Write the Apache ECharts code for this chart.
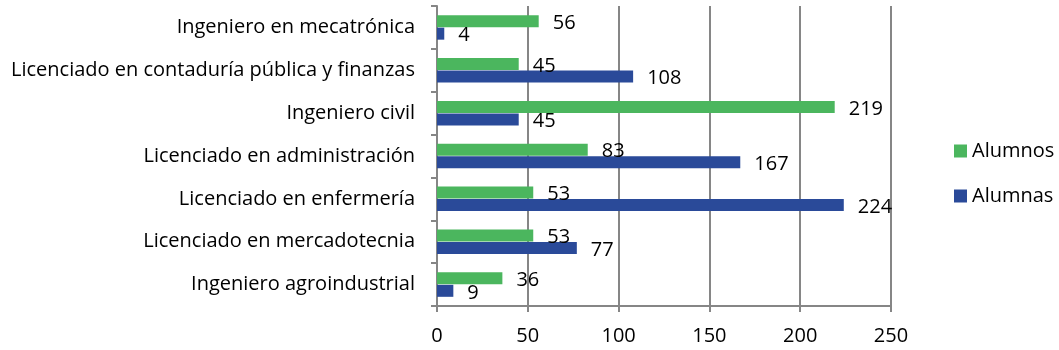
<!DOCTYPE html>
<html>
<head>
<meta charset="utf-8">
<script src="https://cdn.jsdelivr.net/npm/echarts@6/dist/echarts.min.js"></script>
<style>
  html, body { margin: 0; padding: 0; background: #fff; }
  #chart { width: 1059px; height: 350px; }
</style>
</head>
<body>
<div id="chart"></div>
<script>
// categories, bottom to top
const carreras = [
    "Ingeniero agroindustrial",
    "Licenciado en mercadotecnia",
    "Licenciado en enfermería",
    "Licenciado en administración",
    "Ingeniero civil",
    "Licenciado en contaduría pública y finanzas",
    "Ingeniero en mecatrónica"
];
const alumnos = [36, 53, 53, 83, 219, 45, 56];
const alumnas = [9, 77, 224, 167, 45, 108, 4];
const xTicks = [0, 50, 100, 150, 200, 250];

const fontName = "Open Sans";
const gris = "#868686";

let chart = echarts.init(document.getElementById("chart"));

let etiqueta = {
    show: true,
    position: "right",
    distance: 14,
    offset: [0, 2],
    color: "#000",
    fontFamily: fontName,
    fontSize: 20
};

let option = {
    animation: false,
    textStyle: { fontFamily: fontName },
    grid: {
        left: 437,
        right: 168,
        top: 6,
        bottom: 44
    },
    legend: {
        data: ["Alumnos", "Alumnas"],
        orient: "vertical",
        left: 949,
        top: 136,
        itemWidth: 13,
        itemHeight: 13,
        itemGap: 25,
        icon: "rect",
        textStyle: {
            fontFamily: fontName,
            fontSize: 20,
            color: "#000"
        }
    },
    xAxis: {
        type: "value",
        min: xTicks[0],
        max: xTicks[xTicks.length - 1],
        interval: 50,
        axisLine: { show: true, lineStyle: { color: gris, width: 2 } },
        axisTick: { show: true, length: 6, lineStyle: { color: gris, width: 2 } },
        axisLabel: {
            color: "#000",
            fontSize: 20,
            fontFamily: fontName,
            margin: 20
        },
        splitLine: { show: true, lineStyle: { color: gris, width: 2 } }
    },
    yAxis: {
        type: "category",
        data: carreras,
        axisLine: { show: true, lineStyle: { color: gris, width: 2 } },
        axisTick: { show: true, length: 6, lineStyle: { color: gris, width: 2 } },
        axisLabel: {
            color: "#000",
            fontSize: 20,
            fontFamily: fontName,
            margin: 22
        }
    },
    series: [
        {
            name: "Alumnos",
            type: "bar",
            data: alumnos,
            barWidth: 12,
            barGap: "4%",
            itemStyle: { color: "#4bb65e" },
            label: etiqueta
        },
        {
            name: "Alumnas",
            type: "bar",
            data: alumnas,
            barWidth: 12,
            barGap: "4%",
            itemStyle: { color: "#2a4a99" },
            label: etiqueta
        }
    ]
};

chart.setOption(option);
</script>
</body>
</html>
